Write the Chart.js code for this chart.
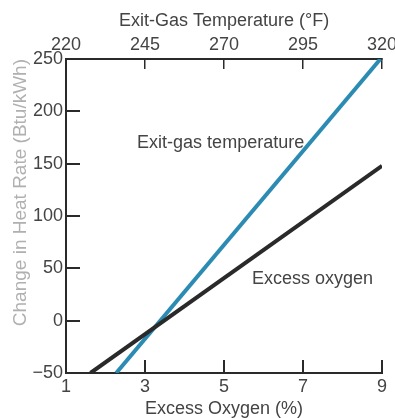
<!DOCTYPE html>
<html>
<head>
  <meta charset="utf-8">
  <title>Heat rate vs excess oxygen</title>
  <script src="https://cdn.jsdelivr.net/npm/chart.js"></script>
  <style>body{margin:0;background:#fff;}#wrap{width:395px;height:418px;position:relative;}</style>
</head>
<body>
  <div id="wrap"><canvas id="chart"></canvas></div>
  <script>
    // excess oxygen line (bottom axis, %)
    const oxygenPct = [1.62, 9];
    const oxygenRate = [-50, 148];
    // exit-gas temperature line (top axis, °F)
    const exitGasTemp = [235.9, 319.5];
    const exitGasRate = [-50, 250];
    // tick labels
    const oxygenTicks = [1, 3, 5, 7, 9];
    const tempTicks = [220, 245, 270, 295, 320];
    const rateTicks = [-50, 0, 50, 100, 150, 200, 250];

    const ink = '#2a2a2a', txt = '#444';
    const fam = '"Liberation Sans", Arial, sans-serif';
    const pts = (xs, ys) => xs.map((x, i) => ({x: x, y: ys[i]}));
    const setTicks = arr => s => { s.ticks = arr.map(v => ({value: v})); };

    // text labels beside each line, placed in data units
    const notes = [
      {text: 'Exit-gas temperature', x: 2.8, y: 170},
      {text: 'Excess oxygen', x: 5.71, y: 40}
    ];
    const notePlugin = {
      id: 'notes',
      afterDatasetsDraw(chart) {
        const ctx = chart.ctx, sx = chart.scales.x, sy = chart.scales.y;
        ctx.save();
        ctx.font = '18px ' + fam;
        ctx.fillStyle = txt;
        ctx.textBaseline = 'middle';
        ctx.textAlign = 'left';
        notes.forEach(n => ctx.fillText(n.text, sx.getPixelForValue(n.x), sy.getPixelForValue(n.y)));
        ctx.restore();
      }
    };

    new Chart(document.getElementById('chart'), {
      type: 'scatter',
      data: {
        datasets: [
          {label: 'Excess oxygen', data: pts(oxygenPct, oxygenRate), xAxisID: 'x', showLine: true,
           borderColor: ink, borderWidth: 4, pointRadius: 0, order: 0},
          {label: 'Exit-gas temperature', data: pts(exitGasTemp, exitGasRate), xAxisID: 'x2', showLine: true,
           borderColor: '#2b8bb3', borderWidth: 4, pointRadius: 0, order: 1}
        ]
      },
      options: {
        responsive: true,
        maintainAspectRatio: false,
        animation: false,
        layout: {padding: {left: 0, right: 13, top: 0, bottom: 0}},
        plugins: {legend: {display: false}, tooltip: {enabled: false}},
        scales: {
          x: {
            type: 'linear', position: 'bottom', min: 1, max: 9,
            afterBuildTicks: setTicks(oxygenTicks),
            afterFit: s => { s.height = 45; s.paddingLeft = 0; s.paddingRight = 0; },
            grid: {drawOnChartArea: false, tickLength: -13, color: ink, lineWidth: 2},
            border: {color: ink, width: 2},
            ticks: {padding: 16, color: txt, font: {family: fam, size: 18}, maxRotation: 0, autoSkip: false},
            title: {display: true, text: 'Excess Oxygen (%)', color: txt, padding: {top: 0, bottom: 0},
                    font: {family: fam, size: 18, lineHeight: 1}}
          },
          x2: {
            type: 'linear', position: 'top', min: 220, max: 320,
            afterBuildTicks: setTicks(tempTicks),
            afterFit: s => { s.height = 59; s.paddingLeft = 0; s.paddingRight = 0; },
            grid: {drawOnChartArea: false, tickLength: -10, color: ink, lineWidth: 1.5},
            border: {color: ink, width: 2},
            ticks: {padding: 13, color: txt, font: {family: fam, size: 18}, maxRotation: 0, autoSkip: false},
            title: {display: true, text: 'Exit-Gas Temperature (°F)', color: txt, padding: {top: 12, bottom: 0},
                    font: {family: fam, size: 18, lineHeight: 1}}
          },
          y: {
            type: 'linear', position: 'left', min: -50, max: 250,
            afterBuildTicks: setTicks(rateTicks),
            afterFit: s => { s.width = 66; s.paddingTop = 0; s.paddingBottom = 0; },
            grid: {drawOnChartArea: false, tickLength: -14, color: ink, lineWidth: 2},
            border: {color: ink, width: 2},
            ticks: {padding: 17, color: txt, font: {family: fam, size: 18},
                    callback: v => v < 0 ? '\u2212' + Math.abs(v) : String(v)},
            title: {display: true, text: 'Change in Heat Rate (Btu/kWh)', color: '#b0b0b0', align: 'end',
                    padding: {top: 11, bottom: 0}, font: {family: fam, size: 19, lineHeight: 1}}
          }
        }
      },
      plugins: [notePlugin]
    });
  </script>
</body>
</html>
